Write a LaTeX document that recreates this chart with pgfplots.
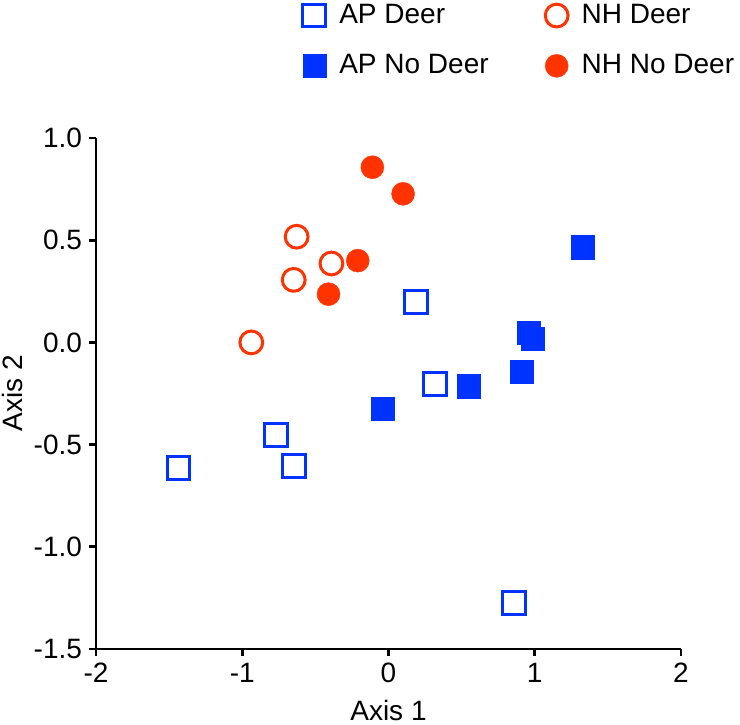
\documentclass[border=0pt]{standalone}
\usepackage{fontspec}
\setmainfont{Liberation Sans}
\usepackage{pgfplots}
\pgfplotsset{compat=1.18}
\definecolor{apblue}{RGB}{0,51,255}
\definecolor{nhred}{RGB}{255,51,0}

\begin{document}
\begin{tikzpicture}
\begin{axis}[
  scale only axis, width=292.5pt, height=255.5pt,
  xmin=-2, xmax=2, ymin=-1.5, ymax=1.0,
  axis lines=left, axis line style={-, line width=1.4pt},
  xtick={-2,-1,0,1,2}, ytick={-1.5,-1,-0.5,0,0.5,1},
  tick align=outside, major tick length=3.5pt, tick style={line width=1.4pt, black},
  /pgf/number format/assume math mode=true,
  yticklabel style={/pgf/number format/fixed, /pgf/number format/fixed zerofill, /pgf/number format/precision=1},
  xticklabel style={/pgf/number format/fixed, /pgf/number format/precision=0},
  ticklabel style={font=\fontsize{14}{16}\selectfont},
  xlabel={Axis 1}, ylabel={Axis 2},
  label style={font=\fontsize{14}{16}\selectfont},
  xlabel style={at={(axis description cs:0.5,-0.1409)}, anchor=base},
  ylabel style={at={(axis description cs:-0.1248,0.5)}, anchor=base},
  legend columns=2,
  legend cell align=left,
  legend image code/.code={\draw[#1] plot coordinates {(0pt,0pt)}; \path[draw=none] (-6pt,0pt) -- (10.5pt,0pt);},
  legend style={at={(axis description cs:0.352,1.27)}, anchor=north west, draw=none, fill=none,
    font=\fontsize{14}{16}\selectfont, inner sep=0pt, row sep=10pt,
    /tikz/every even column/.append style={column sep=26pt}},
]
\addplot[only marks, mark=square, mark size=5.7pt, mark options={draw=apblue, fill=white, line width=1.5pt}]
  coordinates {(-1.436,-0.613) (-0.769,-0.455) (-0.648,-0.603) (0.19,0.197) (0.317,-0.202) (0.858,-1.275)};
\addlegendentry{AP Deer}
\addplot[only marks, mark=o, mark size=5.7pt, mark options={draw=nhred, fill=white, line width=1.5pt}]
  coordinates {(-0.628,0.517) (-0.39,0.386) (-0.648,0.306) (-0.938,0.0)};
\addlegendentry{NH Deer}
\addplot[only marks, mark=square*, mark size=5.8pt, mark options={draw=apblue, fill=apblue, line width=0.2pt}]
  coordinates {(-0.04,-0.324) (0.548,-0.214) (0.909,-0.145) (0.957,0.049) (0.988,0.018) (1.327,0.466)};
\addlegendentry{AP No Deer}
\addplot[only marks, mark=*, mark size=5.75pt, mark options={draw=nhred, fill=nhred, line width=0.2pt}]
  coordinates {(-0.11,0.857) (0.10,0.727) (-0.21,0.40) (-0.41,0.236)};
\addlegendentry{NH No Deer}
\coordinate (bbl) at (axis description cs:-0.1641,-0.1487);
\coordinate (btr) at (axis description cs:1.1009,1.2701);
\end{axis}
\pgfresetboundingbox
\path[use as bounding box] (bbl) rectangle (btr);
\end{tikzpicture}
\end{document}
